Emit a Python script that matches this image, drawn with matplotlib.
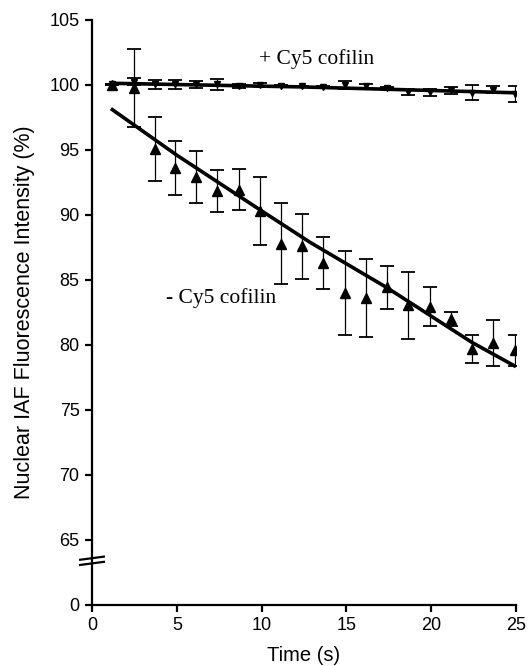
import matplotlib
matplotlib.use('Agg')
import matplotlib.pyplot as plt

# time points (s)
time = [1.2, 2.45, 3.7, 4.9, 6.13, 7.39, 8.65, 9.9, 11.14, 12.4,
        13.64, 14.9, 16.15, 17.39, 18.65, 19.91, 21.15, 22.4, 23.64, 24.94]

# - Cy5 cofilin
minus_mean = [100.0, 99.8, 95.1, 93.6, 92.9, 91.85, 91.95, 90.3, 87.8, 87.6,
              86.3, 84.0, 83.6, 84.45, 83.05, 82.95, 82.0, 79.7, 80.15, 79.6]
minus_err = [0.0, 3.0, 2.45, 2.1, 2.0, 1.6, 1.55, 2.6, 3.1, 2.5,
             2.0, 3.25, 3.0, 1.65, 2.6, 1.5, 0.55, 1.1, 1.75, 1.2]
minus_fit_x = [1.2, 5, 9.9, 12.85, 17.4, 22.4, 24.9]
minus_fit_y = [98.1, 94.6, 90.4, 87.9, 84.4, 80.2, 78.4]

# + Cy5 cofilin
plus_mean = [100.05, 100.25, 100.04, 100.04, 100.04, 100.05, 99.9, 100.0, 99.92, 99.9,
             99.87, 100.0, 99.95, 99.8, 99.48, 99.45, 99.6, 99.41, 99.62, 99.3]
plus_err = [0.0, 0.25, 0.32, 0.32, 0.24, 0.41, 0.15, 0.15, 0.05, 0.05,
            0.05, 0.28, 0.15, 0.05, 0.22, 0.27, 0.26, 0.56, 0.27, 0.6]
plus_fit_x = [1.2, 12.4, 24.94]
plus_fit_y = [100.13, 99.85, 99.4]

yticks = [60, 65, 70, 75, 80, 85, 90, 95, 100, 105]
ytick_labels = ['0', '65', '70', '75', '80', '85', '90', '95', '100', '105']
xticks = [0, 5, 10, 15, 20, 25]

fig = plt.figure(figsize=(5.32, 6.66), dpi=100)
ax = fig.add_axes([0.173, 0.0916, 0.797, 0.8784])

# error bars + markers
ax.errorbar(time, minus_mean, yerr=minus_err, fmt='^', color='black', ms=6.5,
            elinewidth=0.9, capsize=5, capthick=1.3, zorder=3)
ax.errorbar(time, plus_mean, yerr=plus_err, fmt='v', color='black', ms=4,
            elinewidth=0.9, capsize=5, capthick=1.3, zorder=3)

# fitted lines
ax.plot(minus_fit_x, minus_fit_y, color='black', lw=2.6, zorder=4)
ax.plot(plus_fit_x, plus_fit_y, color='black', lw=2.6, zorder=4)

ax.text(13.25, 101.6, '+ Cy5 cofilin', family='Liberation Serif', fontsize=15.5,
        ha='center', va='baseline')
ax.text(7.6, 83.2, '- Cy5 cofilin', family='Liberation Serif', fontsize=15.5,
        ha='center', va='baseline')

ax.set_xlim(0, 25)
ax.set_ylim(60, 105)
ax.set_xticks(xticks)
ax.set_yticks(yticks)
ax.set_yticklabels(ytick_labels)

for s in ['top', 'right']:
    ax.spines[s].set_visible(False)
for s in ['left', 'bottom']:
    ax.spines[s].set_linewidth(1.6)
ax.tick_params(direction='out', length=5, width=1.6, labelsize=13, pad=4)
for lab in ax.get_xticklabels() + ax.get_yticklabels():
    lab.set_family('Liberation Sans')

ax.set_xlabel('Time (s)', family='Liberation Sans', fontsize=14.5, labelpad=8)
ax.set_ylabel('Nuclear IAF Fluorescence Intensity (%)', family='Liberation Sans',
              fontsize=15.5)
ax.yaxis.set_label_coords(-0.135, 0.5)

# axis break marks
for yb in [63.2, 63.6]:
    ax.plot([-0.028, 0.028], [yb - 0.12, yb + 0.12], color='black', lw=1.6,
            transform=ax.get_yaxis_transform(), clip_on=False, zorder=5)

fig.savefig('out.png', dpi=100)
